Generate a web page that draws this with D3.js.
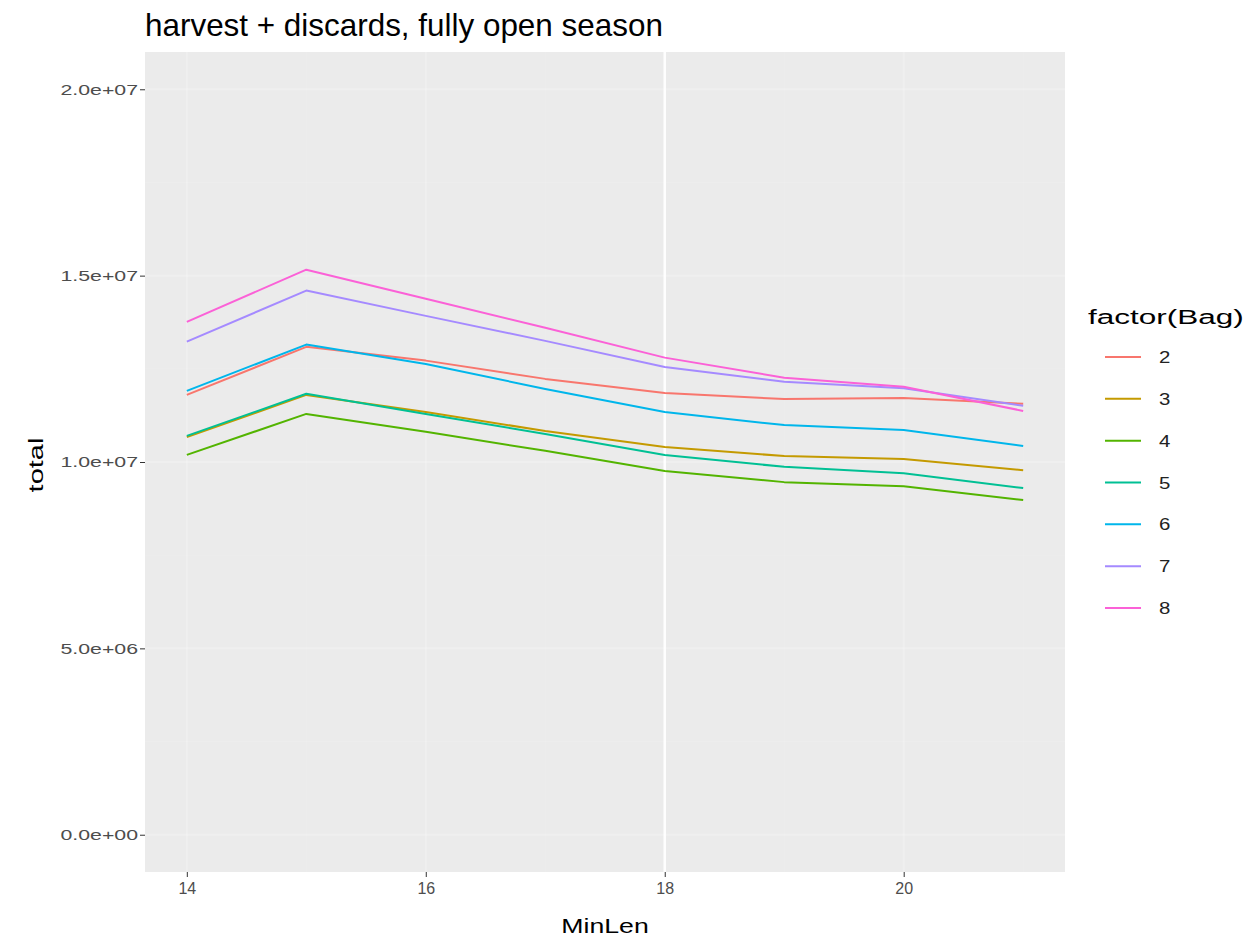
<!DOCTYPE html>
<html>
<head>
<meta charset="utf-8">
<script src="https://cdn.jsdelivr.net/npm/d3@7"></script>
<style>
  html, body { margin: 0; padding: 0; background: #ffffff; }
  text { font-family: "Liberation Sans", Arial, sans-serif; }
</style>
</head>
<body>
<svg id="chart" width="1259" height="938"></svg>
<script>
// ---- data ----
const minLen = [14, 15, 16, 17, 18, 19, 20, 21];
const bags = ["2", "3", "4", "5", "6", "7", "8"];
const bag2 = [11.80e6, 13.09e6, 12.72e6, 12.23e6, 11.85e6, 11.69e6, 11.72e6, 11.56e6];
const bag3 = [10.67e6, 11.80e6, 11.34e6, 10.83e6, 10.40e6, 10.16e6, 10.08e6, 9.78e6];
const bag4 = [10.19e6, 11.29e6, 10.81e6, 10.30e6, 9.76e6, 9.46e6, 9.35e6, 8.98e6];
const bag5 = [10.70e6, 11.83e6, 11.29e6, 10.75e6, 10.19e6, 9.87e6, 9.70e6, 9.30e6];
const bag6 = [11.91e6, 13.15e6, 12.63e6, 11.96e6, 11.34e6, 10.99e6, 10.86e6, 10.43e6];
const bag7 = [13.23e6, 14.60e6, 13.92e6, 13.25e6, 12.55e6, 12.15e6, 11.98e6, 11.51e6];
const bag8 = [13.76e6, 15.16e6, 14.38e6, 13.60e6, 12.80e6, 12.26e6, 12.02e6, 11.37e6];
const seriesValues = [bag2, bag3, bag4, bag5, bag6, bag7, bag8];
const xTicks = [14, 16, 18, 20];
const yTicks = [0, 5e6, 1e7, 1.5e7, 2e7];
const yTickLabels = ["0.0e+00", "5.0e+06", "1.0e+07", "1.5e+07", "2.0e+07"];
const colors = ["#F8766D", "#C49A00", "#53B400", "#00C094", "#00B6EB", "#A58AFF", "#FB61D7"];
const titleText = "harvest + discards, fully open season";

// ---- layout ----
const svg = d3.select("#chart");
const panel = { left: 145, right: 1065, top: 52, bottom: 872 };

const xDom = [14, 21];
const xPad = (xDom[1] - xDom[0]) * 0.05;
const x = d3.scaleLinear().domain([xDom[0] - xPad, xDom[1] + xPad]).range([panel.left, panel.right]);
const yDom = [0, 2e7];
const yPad = (yDom[1] - yDom[0]) * 0.05;
const y = d3.scaleLinear().domain([yDom[0] - yPad, yDom[1] + yPad]).range([panel.bottom, panel.top]);

// panel background
svg.append("rect")
  .attr("x", panel.left).attr("y", panel.top)
  .attr("width", panel.right - panel.left).attr("height", panel.bottom - panel.top)
  .attr("fill", "#ebebeb");

// gridlines (very faint in the reference, except MinLen = 18)
const grid = svg.append("g");
const xMinor = [15, 17, 19, 21];
const yMinor = [2.5e6, 7.5e6, 1.25e7, 1.75e7];
grid.selectAll(".ymin").data(yMinor).enter().append("line")
  .attr("x1", panel.left).attr("x2", panel.right)
  .attr("y1", d => y(d)).attr("y2", d => y(d))
  .attr("stroke", "#ffffff").attr("stroke-opacity", 0.12).attr("stroke-width", 1);
grid.selectAll(".xmin").data(xMinor).enter().append("line")
  .attr("y1", panel.top).attr("y2", panel.bottom)
  .attr("x1", d => x(d)).attr("x2", d => x(d))
  .attr("stroke", "#ffffff").attr("stroke-opacity", 0.12).attr("stroke-width", 1);
grid.selectAll(".ymaj").data(yTicks).enter().append("line")
  .attr("x1", panel.left).attr("x2", panel.right)
  .attr("y1", d => y(d)).attr("y2", d => y(d))
  .attr("stroke", "#ffffff").attr("stroke-opacity", 0.22).attr("stroke-width", 2);
grid.selectAll(".xmaj").data(xTicks).enter().append("line")
  .attr("y1", panel.top).attr("y2", panel.bottom)
  .attr("x1", d => x(d)).attr("x2", d => x(d))
  .attr("stroke", "#ffffff").attr("stroke-opacity", d => d === 18 ? 0.95 : 0.22).attr("stroke-width", d => d === 18 ? 2.5 : 2);

// axes
const yAxis = d3.axisLeft(y).tickValues(yTicks).tickFormat((d, i) => yTickLabels[i]).tickSize(5).tickPadding(6);
const gy = svg.append("g").attr("transform", `translate(${panel.left},0)`).call(yAxis);
gy.select(".domain").remove();
gy.selectAll("line").attr("stroke", "#333333");
gy.selectAll("text").attr("fill", "#4d4d4d").style("font-size", "15px")
  .attr("x", 0).attr("transform", "translate(-7,0) scale(1.42,1)");

const xAxis = d3.axisBottom(x).tickValues(xTicks).tickFormat(d3.format("d")).tickSize(5).tickPadding(6);
const gx = svg.append("g").attr("transform", `translate(0,${panel.bottom})`).call(xAxis);
gx.select(".domain").remove();
gx.selectAll("line").attr("stroke", "#333333");
gx.selectAll("text").attr("fill", "#4d4d4d").style("font-size", "16px");

// lines
const line = d3.line().x((d, i) => x(minLen[i])).y(d => y(d));
svg.append("g").selectAll("path").data(seriesValues).enter().append("path")
  .attr("d", d => line(d))
  .attr("fill", "none")
  .attr("stroke", (d, i) => colors[i])
  .attr("stroke-width", 2)
  .attr("stroke-linejoin", "round");

// axis titles
svg.append("text").attr("transform", "translate(605,933) scale(1.27,1)")
  .attr("text-anchor", "middle").attr("fill", "#000").style("font-size", "21px").text("MinLen");
svg.append("text").attr("transform", "translate(43,465) rotate(-90) scale(1.38,1)")
  .attr("text-anchor", "middle").attr("fill", "#000").style("font-size", "21px").text("total");

// title
const title = svg.append("text").attr("x", panel.left).attr("y", 36)
  .attr("fill", "#000").style("font-size", "22px").text(titleText);
const tw = title.node().getComputedTextLength();
title.style("font-size", (22 * 518 / tw).toFixed(2) + "px");

// legend
const legend = svg.append("g").attr("transform", "translate(1088,0)");
const lt = legend.append("text").attr("transform", "translate(0,324) scale(1.5,1)").attr("fill", "#000")
  .style("font-size", "21px").text("factor(Bag)");
const keyY = d3.scalePoint().domain(bags).range([357, 608]);
const keys = legend.selectAll(".key").data(bags).enter().append("g")
  .attr("transform", d => `translate(0,${keyY(d)})`);
keys.append("line").attr("x1", 17).attr("x2", 53).attr("y1", 0).attr("y2", 0)
  .attr("stroke", (d, i) => colors[i]).attr("stroke-width", 2);
keys.append("text").attr("transform", "translate(71,6) scale(1.2,1)").attr("fill", "#222").style("font-size", "17px").text(d => d);
</script>
</body>
</html>
